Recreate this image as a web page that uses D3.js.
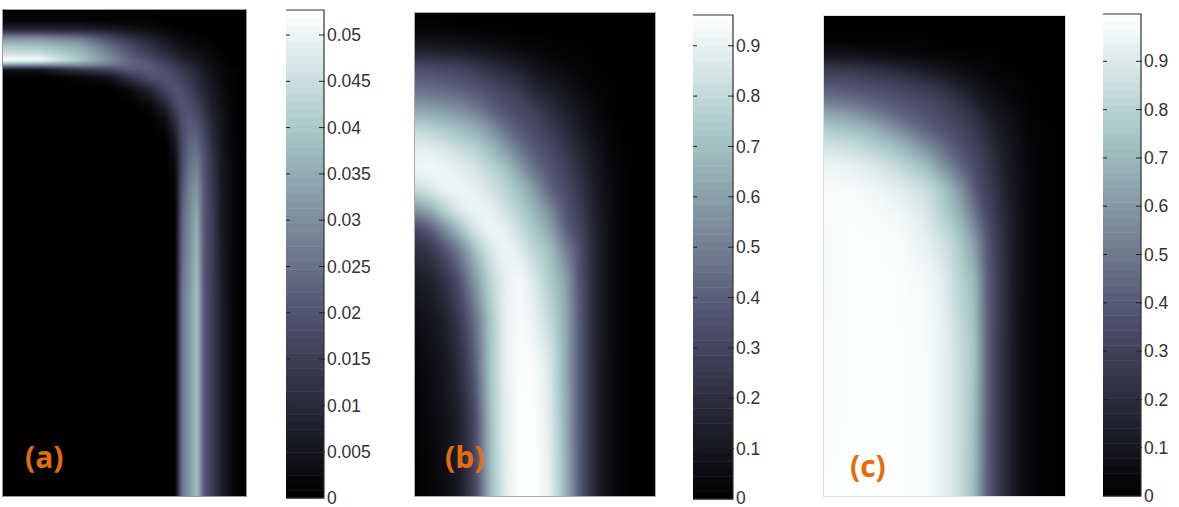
<!DOCTYPE html>
<html><head><meta charset="utf-8">
<style>html,body{margin:0;padding:0;background:#fff;width:1179px;height:507px;overflow:hidden}svg{display:block}</style>
<script src="https://cdn.jsdelivr.net/npm/d3@7"></script></head><body>
<svg id="c" width="1179" height="507"></svg>
<script>
// Panel (a): value in units of 0.001, sampled at image-axis positions
const xa=[0,37,77,107,127,147,162,172,179,187,194,201,209,219,229,243];
const ya=[0,12,20,28,36,44,50,55,60,68,80,95,110,130,150,175,210,290,390,486];
const za=[
[0,0,0,0,0,0,0,0,0,0,0,0,0,0,0,0],
[2,2,2,1,1,1,0,0,0,0,0,0,0,0,0,0],
[10,10,9,7,5,3,2,1,1,0,0,0,0,0,0,0],
[30,30,26,18,12,8,5,3,2,2,1,1,0,0,0,0],
[40,39,34,24,18,12,8,5,4,3,2,2,1,0,0,0],
[46,45,38,28,21,15,11,8,6,5,4,3,2,1,0,0],
[53,52,40,30,23,19,14,11,9,7,6,4,3,1,0,0],
[32,30,30,26,23,21,17,14,12,9,7,5,3,2,0,0],
[3,4,12,16,21,21,19,16,14,11,9,6,4,2,1,0],
[0,0,1,4,12,19,20,18,16,13,10,7,5,2,1,0],
[0,0,0,0,2,9,17,20,19,16,12,9,6,3,1,0],
[0,0,0,0,0,2,9,17,20,19,16,12,7,4,1,0],
[0,0,0,0,0,0,3,11,19,21,19,15,9,5,1,0],
[0,0,0,0,0,0,0,6,18,23,23,18,11,5,1,0],
[0,0,0,0,0,0,0,3,18,25,27,20,13,6,2,0],
[0,0,0,0,0,0,0,1,20,28,31,21,14,6,2,0],
[0,0,0,0,0,0,0,0,23,30,35,21,15,6,2,0],
[0,0,0,0,0,0,0,0,26,32,39,21,15,7,2,0],
[0,0,0,0,0,0,0,0,26,32,39,21,15,7,2,0],
[0,0,0,0,0,0,0,0,26,32,39,21,15,7,2,0]];
// Panel (b): value in units of 0.01
const xb=[0,15,30,45,60,75,90,105,120,135,150,165,180,195,210,225,240];
const yb=[0,17,37,57,77,97,117,137,157,177,197,217,237,267,307,347,407,483];
const zb=[
[0,0,0,0,0,0,0,0,0,0,0,0,0,0,0,0,0],
[2,2,2,1,1,1,1,0,0,0,0,0,0,0,0,0,0],
[13,13,12,11,9,8,6,4,3,2,1,1,0,0,0,0,0],
[36,35,33,31,27,22,18,14,9,6,4,2,1,0,0,0,0],
[46,45,43,41,38,34,30,25,17,13,9,5,2,1,0,0,0],
[62,61,58,55,50,42,36,32,27,20,14,9,4,1,0,0,0],
[80,78,74,70,66,58,46,38,33,27,19,12,6,2,0,0,0],
[90,89,86,82,78,70,60,48,38,33,25,16,9,3,1,0,0],
[92,93,92,89,85,79,72,60,46,37,30,20,11,4,1,0,0],
[80,86,91,92,90,85,78,70,58,42,34,24,12,5,1,0,0],
[56,64,78,88,92,90,84,76,66,54,37,27,14,5,1,0,0],
[30,38,54,70,86,92,90,82,72,62,42,31,15,6,1,0,0],
[20,24,36,50,70,86,92,88,78,70,52,35,16,6,1,0,0],
[12,14,22,36,58,78,90,94,86,74,62,36,17,6,1,0,0],
[6,9,14,26,45,72,90,95,90,80,65,38,16,6,1,0,0],
[3,6,10,20,40,72,90,95,94,86,65,38,16,5,1,0,0],
[1,4,8,14,32,70,89,96,96,88,66,38,16,5,1,0,0],
[0,2,5,12,30,68,88,96,96,90,68,38,16,5,1,0,0]];
// Panel (c): value in units of 0.01
const xc=[0,26,51,76,101,121,136,151,161,171,181,191,206,221,241];
const yc=[0,24,39,54,69,84,99,114,129,149,174,199,224,264,334,480];
const zc=[
[0,0,0,0,0,0,0,0,0,0,0,0,0,0,0],
[1,1,1,1,1,0,0,0,0,0,0,0,0,0,0],
[9,8,6,4,3,2,2,1,1,1,0,0,0,0,0],
[28,26,22,18,12,9,6,4,3,2,1,1,0,0,0],
[39,37,34,30,25,19,13,9,6,4,3,2,1,0,0],
[50,47,42,37,33,28,22,14,10,7,5,3,1,0,0],
[66,62,53,44,38,33,28,21,15,11,8,5,2,0,0],
[78,74,68,56,44,37,32,26,20,14,10,7,2,1,0],
[87,84,78,70,56,44,36,30,24,17,12,8,3,1,0],
[95,93,89,82,72,56,44,34,28,20,14,8,3,1,0],
[98,98,96,92,86,74,60,40,31,24,16,10,3,1,0],
[98,99,98,96,90,78,68,50,36,27,18,11,3,1,0],
[97,99,99,98,93,86,76,60,42,30,20,11,3,1,0],
[97,99,99,99,97,91,80,70,46,32,21,11,3,1,0],
[98,99,99,99,98,93,85,74,48,31,20,10,3,1,0],
[99,99,99,99,98,93,85,70,46,31,20,10,3,1,0]];

const ticksA=[0,0.005,0.01,0.015,0.02,0.025,0.03,0.035,0.04,0.045,0.05];
const ticksB=[0,0.1,0.2,0.3,0.4,0.5,0.6,0.7,0.8,0.9];
const ticksC=[0,0.1,0.2,0.3,0.4,0.5,0.6,0.7,0.8,0.9];
const labels=["(a)","(b)","(c)"];
const tops=[0.0527,0.961,0.998];
const units=[1000,100,100];
const boneStops=["#000000","#515171","#a6c6c6","#ffffff"];
const boneAt=[0,0.375,0.75,1];

const panels=[
 {xs:xa,ys:ya,z:za,ticks:ticksA,label:labels[0],top:tops[0],unit:units[0],soft:1,edge:"#999",
  box:[3,246,10,496],bar:[286,324,10,498],lab:[25,468],lift:0},
 {xs:xb,ys:yb,z:zb,ticks:ticksB,label:labels[1],top:tops[1],unit:units[1],soft:5,edge:"#aaa",
  box:[415,655,13,496],bar:[693,733,15,499],lab:[445,468],lift:1.5},
 {xs:xc,ys:yc,z:zc,ticks:ticksC,label:labels[2],top:tops[2],unit:units[2],soft:4,edge:"#ddd",
  box:[824,1065,16,496],bar:[1103,1141,14,496],lab:[850,477],lift:0}
];
const svg=d3.select("#c");
const bone=d3.scaleLinear().domain(boneAt).range(boneStops).clamp(true);

function sample(p,u,v){
  const i=Math.max(0,Math.min(p.xs.length-2,d3.bisectRight(p.xs,u)-1));
  const j=Math.max(0,Math.min(p.ys.length-2,d3.bisectRight(p.ys,v)-1));
  const s=(u-p.xs[i])/(p.xs[i+1]-p.xs[i]), t=(v-p.ys[j])/(p.ys[j+1]-p.ys[j]);
  const a=p.z[j][i],b=p.z[j][i+1],c=p.z[j+1][i],d=p.z[j+1][i+1];
  return (a*(1-s)+b*s)*(1-t)+(c*(1-s)+d*s)*t;
}
function soften(f,w,h,r){
  const out=new Float32Array(f.length);
  for(let y=0;y<h;y++)for(let x=0;x<w;x++){
    let sum=0,n=0;
    for(let k=-r;k<=r;k++){sum+=f[y*w+Math.max(0,Math.min(w-1,x+k))];n++;}
    out[y*w+x]=sum/n;
  }
  const res=new Float32Array(f.length);
  for(let y=0;y<h;y++)for(let x=0;x<w;x++){
    let sum=0,n=0;
    for(let k=-r;k<=r;k++){sum+=out[Math.max(0,Math.min(h-1,y+k))*w+x];n++;}
    res[y*w+x]=sum/n;
  }
  return res;
}
panels.forEach(p=>{
  const [x0,x1,y0,y1]=p.box;
  const sx=d3.scaleLinear().domain(d3.extent(p.xs)).range([x0,x1]);
  const sy=d3.scaleLinear().domain(d3.extent(p.ys)).range([y0,y1]);
  const w=x1-x0,h=y1-y0;
  let field=new Float32Array(w*h);
  for(let py=0;py<h;py++)for(let px=0;px<w;px++)
    field[py*w+px]=sample(p,sx.invert(x0+px+.5),sy.invert(y0+py+.5));
  field=soften(field,w,h,p.soft);
  const cv=document.createElement("canvas");cv.width=w;cv.height=h;
  const ctx=cv.getContext("2d"),im=ctx.createImageData(w,h);
  for(let n=0;n<w*h;n++){
    const col=d3.rgb(bone(field[n]/p.unit/p.top));
    im.data[n*4]=col.r;im.data[n*4+1]=col.g;im.data[n*4+2]=col.b;im.data[n*4+3]=255;
  }
  ctx.putImageData(im,0,0);
  svg.append("image").attr("x",x0).attr("y",y0).attr("width",w).attr("height",h)
     .attr("href",cv.toDataURL());
  svg.append("rect").attr("x",x0-.5).attr("y",y0-.5).attr("width",w+1).attr("height",h+1)
     .attr("fill","none").attr("stroke",p.edge).attr("stroke-width",1);

  // colour bar
  const [bx0,bx1,by0,by1]=p.bar;
  const sc=d3.scaleLinear().domain([0,p.top]).range([by1,by0]);
  const levels=d3.range(64);
  svg.append("g").selectAll("rect").data(levels).join("rect")
     .attr("x",bx0).attr("width",bx1-bx0)
     .attr("y",d=>sc((d+1)/64*p.top))
     .attr("height",d=>sc(d/64*p.top)-sc((d+1)/64*p.top)+.5)
     .attr("fill",d=>bone((d+.5)/64));
  const fmt=d=>String(+d.toFixed(3));
  const ax=svg.append("g").attr("transform",`translate(${bx1},0)`)
     .call(d3.axisRight(sc).tickValues(p.ticks).tickFormat(fmt).tickSize(0).tickPadding(3));
  ax.select(".domain").remove();
  ax.selectAll("text").attr("fill","#333").attr("font-family","'Liberation Sans',Arial,sans-serif").attr("font-size",17.5)
    .attr("transform",d=>d===0?`translate(0,${-p.lift})`:null);
  const tk=svg.append("g").selectAll("g").data(p.ticks.filter(d=>d>0)).join("g");
  tk.append("line").attr("x1",bx0).attr("x2",bx0+4).attr("y1",d=>sc(d)).attr("y2",d=>sc(d)).attr("stroke","#222");
  tk.append("line").attr("x1",bx1-5).attr("x2",bx1+1).attr("y1",d=>sc(d)).attr("y2",d=>sc(d)).attr("stroke","#222");
  svg.append("path").attr("d",d3.line()([[bx0,by0],[bx1,by0],[bx1,by1],[bx0,by1]]))
     .attr("fill","none").attr("stroke","#333").attr("stroke-width",1.2);
  svg.append("text").attr("x",p.lab[0]).attr("y",p.lab[1]).text(p.label)
     .attr("fill","#E46C0A").attr("font-family","'Open Sans',sans-serif").attr("font-weight",700).attr("font-size",30);
});
</script></body></html>
